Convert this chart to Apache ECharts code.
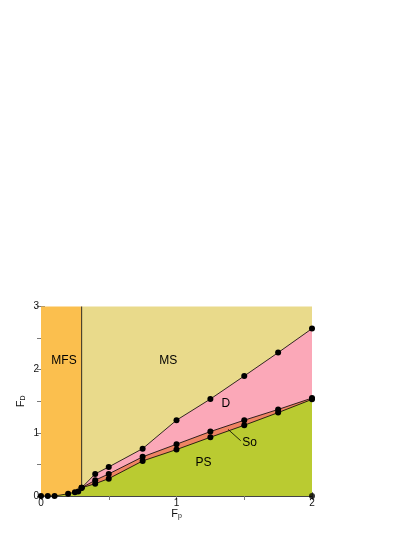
<!DOCTYPE html>
<html>
<head>
<meta charset="utf-8">
<script src="https://cdn.jsdelivr.net/npm/echarts@6/dist/echarts.min.js"></script>
<style>
  html, body { margin: 0; padding: 0; background: #fff; }
  #chart { width: 415px; height: 537px; }
</style>
</head>
<body>
<div id="chart"></div>
<script>
// phase boundaries (x = Fp, y = FD)
const psX = [0, 0.05, 0.1, 0.2, 0.25, 0.275, 0.3, 0.4, 0.5, 0.75, 1, 1.25, 1.5, 1.75, 2];
const psY = [0, 0, 0, 0.035, 0.06, 0.07, 0.13, 0.195, 0.275, 0.555, 0.735, 0.93, 1.12, 1.32, 1.53];
const soX = [0.3, 0.4, 0.5, 0.75, 1, 1.25, 1.5, 1.75, 2];
const soY = [0.13, 0.25, 0.35, 0.62, 0.82, 1.02, 1.2, 1.37, 1.55];
const dX = [0.3, 0.4, 0.5, 0.75, 1, 1.25, 1.5, 1.75, 2];
const dY = [0.13, 0.35, 0.46, 0.75, 1.2, 1.535, 1.9, 2.27, 2.65];
const mfsEdge = 0.3;
const extraDots = [[2, 0]];

const regionNames = ['MFS', 'MS', 'D', 'So', 'PS'];
const regionX = [0.17, 0.94, 1.365, 1.54, 1.2];
const regionY = [2.15, 2.15, 1.455, 0.84, 0.52];
const soPointerX = [1.38, 1.474];
const soPointerY = [1.055, 0.875];

const xTicks = [0, 1, 2];
const yTicks = [0, 1, 2, 3];

const zip = (xs, ys) => xs.map((x, i) => [x, ys[i]]);

const axisGray = '#7a7a7a';

function boundary(name, xs, ys, fill) {
  return {
    name,
    type: 'line',
    data: zip(xs, ys),
    symbol: 'circle',
    symbolSize: 6,
    itemStyle: { color: '#000' },
    lineStyle: { color: '#000', width: 0.8 },
    areaStyle: { color: fill, opacity: 1, origin: 'start' },
    z: 3,
  };
}

const chart = echarts.init(document.getElementById('chart'), null, { renderer: 'canvas' });

const baseAxis = {
  axisLine: { show: true, lineStyle: { color: axisGray, width: 1 } },
  axisTick: { show: true, inside: true, length: 4, lineStyle: { color: axisGray } },
  splitLine: { show: false },
};

chart.setOption({
  animation: false,
  backgroundColor: '#fff',
  textStyle: { fontFamily: 'Liberation Sans, Arial, sans-serif' },
  grid: { left: 41, right: 103, top: 306.5, bottom: 41, containLabel: false },
  xAxis: [
    {
      ...baseAxis,
      type: 'value',
      min: 0,
      max: 2,
      interval: 0.5,
      name: '{f|F}{s|p}',
      nameLocation: 'middle',
      nameGap: 11,
      nameMoveOverlap: false,
      nameTextStyle: {
        rich: {
          f: { fontSize: 11, color: '#111' },
          s: { fontSize: 7, color: '#111', verticalAlign: 'bottom', padding: [6, 0, 0, 0] },
        },
      },
      axisLabel: {
        fontSize: 10,
        color: '#111',
        margin: 2,
        formatter: (v) => (xTicks.includes(v) ? String(v) : ''),
      },
    },
    {
      ...baseAxis,
      type: 'value',
      position: 'top',
      min: 0,
      max: 2,
      interval: 0.5,
      axisLine: { show: true, lineStyle: { color: '#444', width: 1 } },
      axisLabel: { show: false },
    },
  ],
  yAxis: [
    {
      ...baseAxis,
      type: 'value',
      min: 0,
      max: 3,
      interval: 0.5,
      name: '{f|F}{s|D}',
      nameLocation: 'middle',
      nameGap: 14,
      nameMoveOverlap: false,
      nameRotate: 90,
      nameTextStyle: {
        rich: {
          f: { fontSize: 11, color: '#111' },
          s: { fontSize: 7, color: '#111', padding: [6, 0, 0, 0] },
        },
      },
      axisLabel: {
        fontSize: 10,
        color: '#111',
        margin: 2,
        formatter: (v) => (yTicks.includes(v) ? String(v) : ''),
      },
    },
    {
      ...baseAxis,
      type: 'value',
      position: 'right',
      min: 0,
      max: 3,
      interval: 0.5,
      axisLabel: { show: false },
    },
  ],
  series: [
    {
      name: 'regions',
      type: 'line',
      data: [],
      markArea: {
        silent: true,
        data: [
          [{ coord: [0, 0], itemStyle: { color: '#fbbf4e' } }, { coord: [mfsEdge, 3] }],
          [{ coord: [mfsEdge, 0], itemStyle: { color: '#e9da8b' } }, { coord: [2, 3] }],
        ],
      },
      z: 1,
    },
    boundary('D', dX, dY, '#fba8b8'),
    boundary('So', soX, soY, '#ef8463'),
    boundary('PS', psX, psY, '#bacb31'),
    {
      name: 'MFS edge',
      type: 'line',
      data: [[mfsEdge, dY[0]], [mfsEdge, 3]],
      symbol: 'none',
      lineStyle: { color: '#000', width: 0.8 },
      z: 4,
    },
    {
      name: 'So pointer',
      type: 'line',
      data: zip(soPointerX, soPointerY),
      symbol: 'none',
      lineStyle: { color: '#000', width: 0.8 },
      z: 4,
    },
    {
      name: 'extra dots',
      type: 'scatter',
      data: extraDots,
      symbolSize: 6,
      itemStyle: { color: '#000' },
      z: 5,
    },
    {
      name: 'labels',
      type: 'scatter',
      data: zip(regionX, regionY).map((p, i) => ({ value: p, name: regionNames[i] })),
      symbolSize: 0,
      itemStyle: { opacity: 1 },
      label: {
        show: true,
        position: 'inside',
        formatter: '{b}',
        fontSize: 12,
        color: '#000',
      },
      z: 6,
    },
  ],
});
</script>
</body>
</html>
